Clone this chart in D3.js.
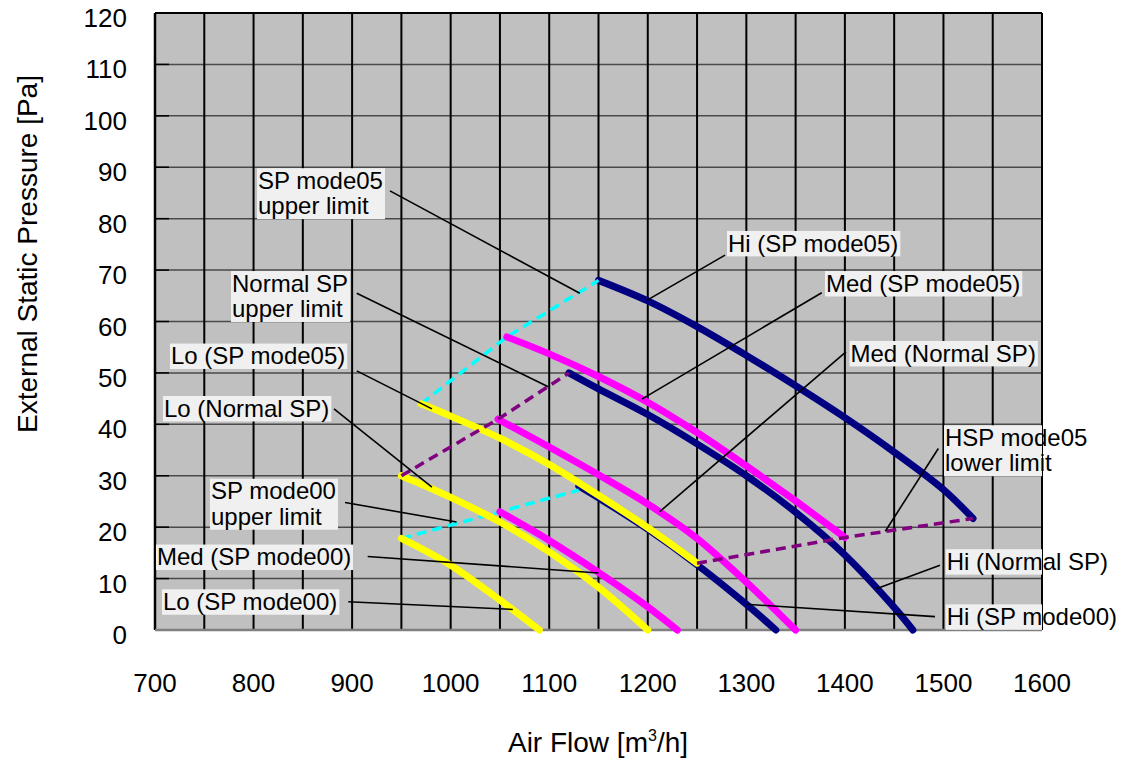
<!DOCTYPE html>
<html><head><meta charset="utf-8">
<script src="https://cdn.jsdelivr.net/npm/d3@7"></script>
<style>body{margin:0;background:#fff;} text{font-family:"Liberation Sans",Arial,Helvetica,sans-serif;fill:#000;}</style>
</head><body><svg id="c" width="1124" height="761"></svg>
<script>
// ---------- data ----------
const xTickLabels = [700, 800, 900, 1000, 1100, 1200, 1300, 1400, 1500, 1600];
const xGrid = [700, 750, 800, 850, 900, 950, 1000, 1050, 1100, 1150, 1200, 1250, 1300, 1350, 1400, 1450, 1500, 1550, 1600];
const yTickLabels = [0, 10, 20, 30, 40, 50, 60, 70, 80, 90, 100, 110, 120];

const hiMode05  = [[1150,68],[1200,64],[1250,59.0],[1300,53.4],[1350,47.5],[1400,41.3],[1450,34.6],[1500,27.3],[1530,21.7]];
const hiNormal  = [[1120,50],[1150,46.9],[1200,41.9],[1250,36.2],[1300,30.0],[1350,22.9],[1400,14.6],[1450,4.4],[1469,0]];
const hiMode00  = [[1130,28.0],[1150,25.7],[1200,19.6],[1250,12.7],[1300,5],[1330,0]];
const medMode05 = [[1057,57],[1100,53.7],[1150,49.3],[1200,44.3],[1250,38.4],[1300,31.9],[1350,25.1],[1400,18]];
const medNormal = [[1048,41],[1100,35.6],[1150,30.2],[1200,24.5],[1250,17.8],[1300,9.3],[1350,0]];
const medMode00 = [[1050,23],[1100,17.4],[1150,11.2],[1200,4.5],[1230,0]];
const loMode05  = [[970,44],[1000,41.6],[1050,37.3],[1100,32.2],[1150,26.2],[1200,19.9],[1250,13]];
const loNormal  = [[950,30],[1000,25.8],[1050,21],[1100,15.2],[1150,8.3],[1200,0]];
const loMode00  = [[950,17.8],[1000,12.6],[1050,5.8],[1090,0]];
const sp05Upper   = [[970,44],[1057,57],[1150,68]];
const normalUpper = [[950,30],[1048,41],[1120,50]];
const sp00Upper   = [[950,17.8],[1050,23],[1130,27.2]];
const hsp05Lower  = [[1250,13],[1400,18],[1530,21.7]];

// annotation labels: text anchor (airflow, pressure), leader from (sx,sy) to (ex,ey)
const annotations = [
  {lines:["SP mode05","upper limit"], x:804.5, y:85.8, sx:938.4, sy:85.4, ex:1131, ey:65.5},
  {lines:["Hi (SP mode05)"], x:1281.4, y:73.6, sx:1278.4, sy:72.9, ex:1199, ey:64.1},
  {lines:["Med (SP mode05)"], x:1380.8, y:65.8, sx:1376.5, sy:65.6, ex:1194, ey:44.9},
  {lines:["Med (Normal SP)"], x:1405.7, y:52.2, sx:1401.1, sy:54.1, ex:1212, ey:23},
  {lines:["HSP mode05","lower limit"], x:1501.6, y:35.8, sx:1494.8, sy:35.3, ex:1441, ey:19.2},
  {lines:["Hi (Normal SP)"], x:1503.3, y:11.7, sx:1496.5, sy:12.6, ex:1432, ey:8},
  {lines:["Hi (SP mode00)"], x:1503.3, y:0.97, sx:1491.4, sy:2.6, ex:1300, ey:5},
  {lines:["Normal SP","upper limit"], x:778.1, y:65.8, sx:904.7, sy:65.5, ex:1099, ey:47.3},
  {lines:["Lo (SP mode05)"], x:716.2, y:51.7, sx:904.7, sy:50.4, ex:981, ey:43},
  {lines:["Lo (Normal SP)"], x:709.1, y:41.5, sx:881.6, sy:43, ex:981, ey:27.8},
  {lines:["SP mode00","upper limit"], x:756.8, y:25.4, sx:892.8, sy:24.8, ex:1006, ey:21},
  {lines:["Med (SP mode00)"], x:702, y:12.6, sx:915.8, sy:14.3, ex:1150, ey:11.1},
  {lines:["Lo (SP mode00)"], x:708.1, y:3.9, sx:896.1, sy:5.5, ex:1063, ey:4}
];

// ---------- layout ----------
const svg = d3.select("#c");
const L = 155, R = 1042, T = 13, B = 630;
const x = d3.scaleLinear().domain([700,1600]).range([L,R]);
const y = d3.scaleLinear().domain([0,120]).range([B,T]);

svg.append("defs").append("clipPath").attr("id","plotclip")
  .append("rect").attr("x",L).attr("y",T).attr("width",R-L).attr("height",B-T);

svg.append("rect").attr("x",L).attr("y",T).attr("width",R-L).attr("height",B-T).attr("fill","#c0c0c0");

// horizontal grid
svg.append("g").selectAll("line").data(yTickLabels.filter(d=>d>0 && d<120)).join("line")
  .attr("x1",L).attr("x2",R).attr("y1",d=>y(d)).attr("y2",d=>y(d))
  .attr("stroke","#4a4a4a").attr("stroke-width",1.5);
// vertical grid
svg.append("g").selectAll("line").data(xGrid.filter(d=>d>700 && d<1600)).join("line")
  .attr("x1",d=>x(d)).attr("x2",d=>x(d)).attr("y1",T).attr("y2",B)
  .attr("stroke","#000").attr("stroke-width",2);
// y tick stubs
svg.append("g").selectAll("line").data(yTickLabels).join("line")
  .attr("x1",L).attr("x2",L+14).attr("y1",d=>y(d)).attr("y2",d=>y(d))
  .attr("stroke","#000").attr("stroke-width",1.5);
// frame
svg.append("line").attr("x1",L).attr("x2",R).attr("y1",T).attr("y2",T).attr("stroke","#000").attr("stroke-width",2);
svg.append("line").attr("x1",L).attr("x2",L).attr("y1",T).attr("y2",B).attr("stroke","#000").attr("stroke-width",2.5);
svg.append("line").attr("x1",R).attr("x2",R).attr("y1",T).attr("y2",B).attr("stroke","#000").attr("stroke-width",2);
svg.append("line").attr("x1",L).attr("x2",R).attr("y1",B).attr("y2",B).attr("stroke","#808080").attr("stroke-width",2.5);

// axes labels
svg.append("g").selectAll("text").data(xTickLabels).join("text")
  .attr("x",d=>x(d)).attr("y",B+62).attr("text-anchor","middle").attr("font-size",26).text(d=>d);
svg.append("g").selectAll("text").data(yTickLabels).join("text")
  .attr("x",127).attr("y",d=>y(d)+14).attr("text-anchor","end").attr("font-size",26).text(d=>d);

const xt = svg.append("text").attr("x",598).attr("y",752).attr("text-anchor","middle").attr("font-size",28);
xt.append("tspan").text("Air Flow [m");
xt.append("tspan").attr("font-size",16).attr("dy",-11).text("3");
xt.append("tspan").attr("dy",11).text("/h]");
svg.append("text").attr("transform","translate(37,254) rotate(-90)").attr("text-anchor","middle")
  .attr("font-size",28).text("External Static Pressure [Pa]");

// ---------- series ----------
const curve = d3.line().x(d=>x(d[0])).y(d=>y(d[1])).curve(d3.curveCatmullRom.alpha(0.5));
const straight = d3.line().x(d=>x(d[0])).y(d=>y(d[1]));
const g = svg.append("g");
function solid(data, color){
  g.append("path").attr("d",curve(data)).attr("fill","none").attr("stroke",color)
   .attr("stroke-width",7).attr("stroke-linecap","round").attr("stroke-linejoin","round");
}
function dashed(data, color){
  g.append("path").attr("d",straight(data)).attr("fill","none").attr("stroke",color)
   .attr("stroke-width",3.5).attr("stroke-dasharray","10,6");
}
solid(hiMode05,"#000080");
solid(hiNormal,"#000080");
solid(hiMode00,"#000080");
dashed(sp05Upper,"#00ffff");
dashed(sp00Upper,"#00ffff");
solid(medMode05,"#ff00ff");
solid(medNormal,"#ff00ff");
solid(medMode00,"#ff00ff");
solid(loMode05,"#ffff00");
solid(loNormal,"#ffff00");
solid(loMode00,"#ffff00");
dashed(normalUpper,"#800080");
dashed(hsp05Lower,"#800080");

// ---------- annotations ----------
const ag = svg.append("g");
ag.selectAll("line").data(annotations).join("line")
  .attr("x1",d=>x(d.sx)).attr("y1",d=>y(d.sy)).attr("x2",d=>x(d.ex)).attr("y2",d=>y(d.ey))
  .attr("stroke","#000").attr("stroke-width",1.6);

const FS = 24, LH = 25.5;
annotations.forEach(a=>{
  const tx = x(a.x), ty = y(a.y);
  const box = ag.append("rect").attr("fill","#f0f0f0").attr("clip-path","url(#plotclip)");
  const t = ag.append("text").attr("font-size",FS);
  a.lines.forEach((ln,i)=>{ t.append("tspan").attr("x",tx).attr("y",ty+i*LH).text(ln); });
  const bb = t.node().getBBox();
  const top = ty - 0.86*FS, bot = ty + (a.lines.length-1)*LH + 0.2*FS;
  box.attr("x",bb.x-1).attr("width",bb.width+3).attr("y",top).attr("height",bot-top);
});
</script></body></html>
